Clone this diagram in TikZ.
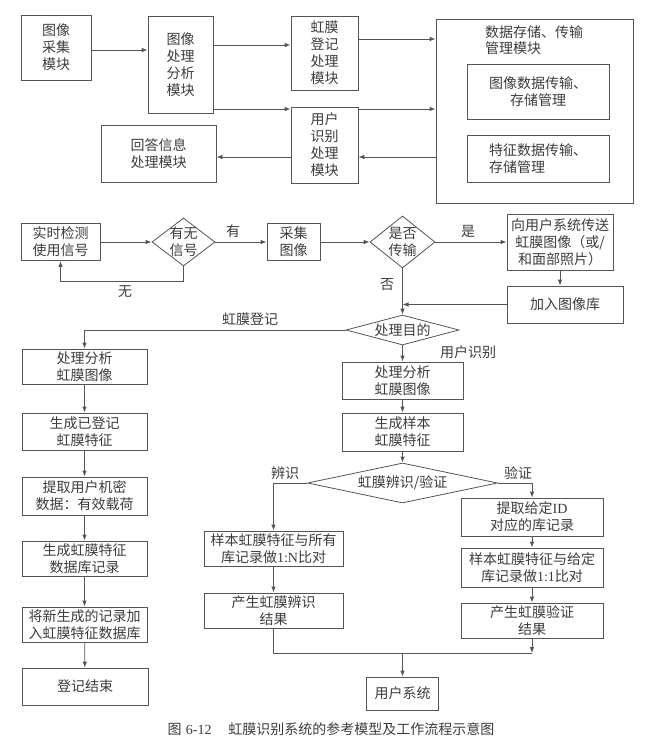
\documentclass[tikz,border=0pt]{standalone}
\usepackage{fontspec}
\setmainfont{Noto Sans CJK SC}
\newfontfamily\latf{Liberation Serif}
\usetikzlibrary{shapes.geometric,arrows.meta}
\definecolor{lncol}{HTML}{555555}
\definecolor{txcol}{HTML}{3C3C3C}
\tikzset{
  box/.style={draw=lncol, line width=0.8pt, rectangle, inner sep=0pt, align=center, text=txcol, font=\fontsize{14}{17}\selectfont},
  dia/.style={draw=lncol, line width=0.8pt, diamond, inner sep=0pt, aspect=1},
  arr/.style={draw=lncol, line width=0.8pt, -{Latex[length=6pt,width=4.5pt]}},
  plain/.style={draw=lncol, line width=0.8pt},
  lbl/.style={text=txcol, inner sep=0pt, font=\fontsize{14}{17}\selectfont},
}
\begin{document}
\begin{tikzpicture}[x=1pt,y=-1pt]
\useasboundingbox (0,0) rectangle (647,754);
% ---------- top: modules ----------
\node[box, minimum width=70pt, minimum height=65pt] (cj) at (56,47.5) {图像\\采集\\模块};
\node[box, minimum width=65pt, minimum height=97pt] (cl) at (180.5,64.5) {图像\\处理\\分析\\模块};
\node[box, minimum width=67pt, minimum height=74pt] (dj) at (324.5,53) {虹膜\\登记\\处理\\模块};
\node[box, minimum width=67pt, minimum height=76pt] (sb) at (324.5,145) {用户\\识别\\处理\\模块};
\node[box, minimum width=115pt, minimum height=57pt] (hd) at (158.5,153.5) {回答信息\\处理模块};
\node[box, minimum width=197pt, minimum height=184pt] (big) at (534.5,111) {};
\node[lbl, align=left, anchor=north west] (bigt) at (485,25) {数据存储、传输\\管理模块};
\node[box, minimum width=142pt, minimum height=55pt] (in1) at (538,91.5) {图像数据传输、\\存储管理};
\node[box, minimum width=142pt, minimum height=47pt, align=left] (in2) at (538,158.5) {特征数据传输、\\存储管理};

\draw[arr] ([yshift=-2.5pt]cj.east) -- ([yshift=-2.5pt]cj.east -| cl.west);
\draw[arr] ([yshift=8pt]dj.west -| cl.east) -- ([yshift=8pt]dj.west);
\draw[arr] ([yshift=36pt]sb.west -| cl.east) -- ([yshift=36pt]sb.west);
\draw[arr] ([yshift=14pt]dj.east) -- ([yshift=14pt]dj.east -| big.west);
\draw[arr] ([yshift=36pt]sb.east) -- ([yshift=36pt]sb.east -| big.west);
\draw[arr] ([yshift=-12pt]sb.east -| big.west) -- ([yshift=-12pt]sb.east);
\draw[arr] ([yshift=-12pt]sb.west) -- ([yshift=-12pt]sb.west -| hd.east);

% ---------- middle ----------
\node[box, minimum width=79pt, minimum height=37pt] (ss) at (60.5,242) {实时检测\\使用信号};
\node[dia, minimum width=63pt, minimum height=48pt, label={[lbl,align=center]center:{有无\\信号}}] (d1) at (183.5,242) {};
\node[box, minimum width=53pt, minimum height=37pt] (cjtx) at (293.5,242) {采集\\图像};
\node[dia, minimum width=65pt, minimum height=52pt, label={[lbl,align=center]center:{是否\\传输}}] (d2) at (402.5,242) {};
\node[box, minimum width=106pt, minimum height=56pt] (xyh) at (560,242) {向用户系统传送\\虹膜图像（或/\\和面部照片）};
\node[box, minimum width=116pt, minimum height=37pt] (jr) at (565,304.5) {加入图像库};
\node[dia, minimum width=113pt, minimum height=30pt, label={[lbl]center:处理目的}] (d3) at (402.5,330) {};

\coordinate (lp) at (0,281);
\draw[arr] (ss.east) -- (d1.west);
\draw[arr] (d1.east) -- (cjtx.west);
\node[lbl] (lyou) at (233,231) {有};
\draw[arr] (d1.south) -- (d1.south |- lp) -| (ss.south);
\node[lbl] (lwu) at (125,292) {无};
\draw[arr] (cjtx.east) -- (d2.west);
\draw[arr] (d2.east) -- (xyh.west);
\node[lbl] (lshi) at (468,231) {是};
\draw[arr] (xyh.south) -- (xyh.south |- jr.north);
\draw[arr] (jr.west) -- (jr.west -| d2.south);
\draw[arr] (d2.south) -- (d3.north);
\node[lbl] (lfou) at (387,285) {否};

% ---------- left column ----------
\node[box, minimum width=125pt, minimum height=35pt] (L1) at (84.5,366.5) {处理分析\\虹膜图像};
\node[box, minimum width=125pt, minimum height=37pt] (L2) at (84.5,431.5) {生成已登记\\虹膜特征};
\node[box, minimum width=125pt, minimum height=38pt] (L3) at (84.5,496) {提取用户机密\\数据：有效载荷};
\node[box, minimum width=125pt, minimum height=35pt] (L4) at (84.5,558.5) {生成虹膜特征\\数据库记录};
\node[box, minimum width=125pt, minimum height=35pt] (L5) at (84.5,624.5) {将新生成的记录加\\入虹膜特征数据库};
\node[box, minimum width=126pt, minimum height=37pt] (L6) at (85,686.5) {登记结束};

\draw[arr] (d3.west) -| (L1.north);
\node[lbl] (ldj) at (250,319) {虹膜登记};
\draw[arr] (L1) -- (L2);
\draw[arr] (L2) -- (L3);
\draw[arr] (L3) -- (L4);
\draw[arr] (L4) -- (L5);
\draw[arr] (L5) -- (L6);

% ---------- right part ----------
\node[box, minimum width=121pt, minimum height=37pt] (R1) at (402.5,380.5) {处理分析\\虹膜图像};
\node[box, minimum width=121pt, minimum height=38pt] (R2) at (402.5,432) {生成样本\\虹膜特征};
\node[dia, minimum width=190pt, minimum height=40pt, label={[lbl]center:虹膜辨识/验证}] (d4) at (402.5,483) {};
\node[box, minimum width=139pt, minimum height=35pt] (B1) at (273.5,548.5) {样本虹膜特征与所有\\库记录做{\latf 1:N}比对};
\node[box, minimum width=139pt, minimum height=35pt] (B2) at (273.5,610.5) {产生虹膜辨识\\结果};
\node[box, minimum width=142pt, minimum height=38pt] (V1) at (532,517) {提取给定{\latf ID}\\对应的库记录};
\node[box, minimum width=142pt, minimum height=39pt] (V2) at (532,567.5) {样本虹膜特征与给定\\库记录做{\latf 1:1}比对};
\node[box, minimum width=142pt, minimum height=35pt] (V3) at (532,620.5) {产生虹膜验证\\结果};
\node[box, minimum width=72pt, minimum height=33pt] (US) at (402.5,693.5) {用户系统};

\draw[arr] (d3.south) -- (R1.north);
\node[lbl] (lyh) at (468,352) {用户识别};
\draw[arr] (R1) -- (R2);
\draw[arr] (R2) -- (d4);
\draw[arr] (d4.west) -| (B1.north);
\node[lbl] (lbs) at (285,473) {辨识};
\draw[arr] (d4.east) -| (V1.north);
\node[lbl] (lyz) at (518,473) {验证};
\draw[arr] (B1) -- (B2);
\draw[arr] (V1) -- (V2);
\draw[arr] (V2) -- (V3);

\coordinate (jn) at (0,653);
\draw[plain] (B2.south) |- (V3.south |- jn);
\draw[arr] (V3.south) -- (V3.south |- jn);
\draw[arr] (US.north |- jn) -- (US.north);

% ---------- caption ----------
\node[lbl] (cap) at (331,729) {图\hspace{0.3em}{\latf 6-12}\hspace{1.2em}虹膜识别系统的参考模型及工作流程示意图};
\end{tikzpicture}
\end{document}
